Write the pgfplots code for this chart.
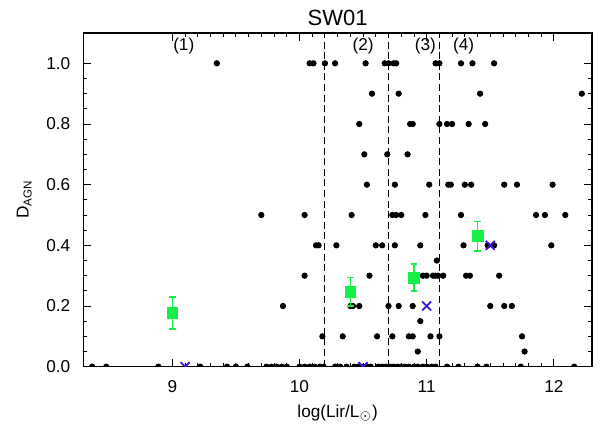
\documentclass[border=0pt]{standalone}
\usepackage{fontspec}
\setmainfont{Liberation Sans}
\usepackage{pgfplots}
\pgfplotsset{compat=1.18}
\definecolor{idlgreen}{RGB}{20,240,70}
\definecolor{idlblue}{RGB}{60,20,220}

\pgfplotstableread{
x y
9.35 1.0
10.08 1.0
10.11 1.0
10.20 1.0
10.28 1.0
10.52 1.0
10.67 1.0
10.70 1.0
10.74 1.0
10.76 1.0
11.07 1.0
11.10 1.0
11.27 1.0
11.36 1.0
11.53 1.0
10.57 0.9
10.78 0.9
11.42 0.9
12.22 0.9
10.47 0.8
10.87 0.8
10.89 0.8
11.10 0.8
11.16 0.8
11.20 0.8
11.33 0.8
11.46 0.8
10.51 0.7
10.69 0.7
10.85 0.7
10.53 0.6
10.75 0.6
11.02 0.6
11.17 0.6
11.19 0.6
11.30 0.6
11.35 0.6
11.61 0.6
11.71 0.6
11.99 0.6
9.70 0.5
10.04 0.5
10.41 0.5
10.73 0.5
10.76 0.5
10.80 0.5
10.99 0.5
11.27 0.5
11.86 0.5
11.93 0.5
12.09 0.5
10.13 0.4
10.15 0.4
10.29 0.4
10.60 0.4
10.65 0.4
10.75 0.4
10.95 0.4
11.29 0.4
11.48 0.4
11.53 0.4
11.98 0.4
11.08 0.35
10.04 0.3
10.55 0.3
10.97 0.3
11.00 0.3
11.05 0.3
11.07 0.3
11.09 0.3
11.13 0.3
11.31 0.3
11.34 0.3
11.57 0.3
9.87 0.2
10.40 0.2
10.42 0.2
10.47 0.2
10.70 0.2
10.78 0.2
10.89 0.2
11.50 0.2
11.61 0.2
11.67 0.2
10.95 0.15
10.18 0.1
10.34 0.1
10.61 0.1
10.73 0.1
10.86 0.1
10.89 0.1
11.03 0.1
11.10 0.1
11.75 0.1
10.93 0.05
11.77 0.05
8.37 0
8.48 0
8.89 0
9.22 0
9.43 0
9.50 0
9.59 0
9.74 0
9.78 0
9.82 0
9.86 0
9.90 0
10.00 0
10.04 0
10.08 0
10.12 0
10.16 0
10.19 0
10.28 0
10.32 0
10.37 0
10.43 0
10.46 0
10.50 0
10.53 0
10.56 0
10.62 0
10.65 0
10.68 0
10.71 0
10.74 0
10.77 0
10.80 0
10.83 0
10.86 0
10.90 0
10.93 0
10.97 0
11.00 0
11.04 0
11.07 0
11.16 0
11.25 0
11.40 0
11.47 0
11.74 0
12.16 0
}\galaxies

\pgfplotstableread{
x y err
9.00 0.177 0.053
10.40 0.247 0.047
10.90 0.294 0.045
11.40 0.430 0.048
}\binmeans

\pgfplotstableread{
x y
9.1 0
10.5 0
11.0 0.2
11.5 0.4
}\binmedians

\begin{document}
\begin{tikzpicture}[font=\fontsize{8.6}{10}\selectfont]
\begin{axis}[
  scale only axis,
  width=254.35pt, height=166.85pt,
  xmin=8.3, xmax=12.3, ymin=0, ymax=1.1,
  xtick={9,10,11,12},
  ytick={0,0.2,0.4,0.6,0.8,1.0},
  minor x tick num=9, minor y tick num=3,
  tick align=inside,
  major tick length=3.8pt, minor tick length=1.9pt,
  tick style={black, line width=0.45pt},
  axis line style={line width=0.6pt},
  /pgf/number format/assume math mode=true,
  yticklabel style={/pgf/number format/fixed, /pgf/number format/fixed zerofill,
    /pgf/number format/precision=1, xshift=-3pt},
  xticklabel style={yshift=-3.5pt},
  title={SW01},
  title style={font=\fontsize{11}{13}\selectfont, at={(axis description cs:0.5,1.021)}, anchor=base, yshift=-6pt},
  xlabel={log(Lir/L$_\odot$)},
  xlabel style={at={(axis description cs:0.5,-0.138)}, anchor=center},
  ylabel={D\raisebox{-0.35ex}{\fontsize{5.8}{6}\selectfont AGN}},
  ylabel style={at={(axis description cs:-0.116,0.5)}, anchor=center},
  clip marker paths=true,
]
% bin boundaries
\addplot [black, line width=0.45pt, dash pattern=on 3.5pt off 1.8pt] coordinates {(10.2,0) (10.2,1.1)};
\addplot [black, line width=0.45pt, dash pattern=on 3.5pt off 1.8pt] coordinates {(10.7,0) (10.7,1.1)};
\addplot [black, line width=0.45pt, dash pattern=on 3.5pt off 1.8pt] coordinates {(11.1,0) (11.1,1.1)};

\addplot [only marks, mark=*, mark size=1.35pt, black] table {\galaxies};

\addplot [only marks, mark=square*, mark size=2.7pt, idlgreen,
  error bars/.cd, y dir=both, y explicit,
  error bar style={line width=0.8pt, idlgreen},
  error mark options={rotate=90, mark size=1.7pt, line width=0.8pt, idlgreen}]
  table [x=x, y=y, y error=err] {\binmeans};

\addplot [only marks, mark=x, mark size=3.2pt, line width=0.9pt, idlblue] table {\binmedians};

\node at (axis cs:9.09,1.058) {(1)};
\node at (axis cs:10.5,1.058) {(2)};
\node at (axis cs:10.99,1.058) {(3)};
\node at (axis cs:11.29,1.058) {(4)};
\end{axis}
\pgfresetboundingbox
\path[use as bounding box] ([xshift=-41.65pt,yshift=-29.65pt]current axis.south west) rectangle ([xshift=6.5pt,yshift=16.5pt]current axis.north east);
\end{tikzpicture}
\end{document}
